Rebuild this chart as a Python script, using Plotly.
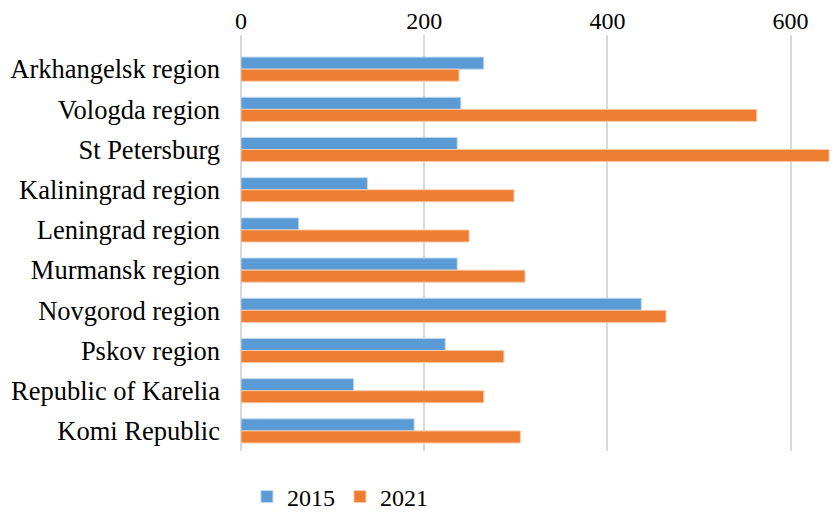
import plotly.graph_objects as go

regions = ["Arkhangelsk region", "Vologda region", "St Petersburg", "Kaliningrad region",
           "Leningrad region", "Murmansk region", "Novgorod region", "Pskov region",
           "Republic of Karelia", "Komi Republic"]
v2015 = [265, 240, 236, 138, 63, 236, 437, 223, 123, 189]
v2021 = [238, 563, 642, 298, 249, 310, 464, 287, 265, 305]
tick_vals = [0, 200, 400, 600]

FONT = "Liberation Serif"
fig = go.Figure()
fig.add_trace(go.Bar(y=regions, x=v2015, name="2015", orientation="h",
                     marker=dict(color="#5B9BD5", line=dict(color="#BDD7EE", width=1))))
fig.add_trace(go.Bar(y=regions, x=v2021, name="2021", orientation="h",
                     marker=dict(color="#ED7D31", line=dict(color="#F8CBAD", width=1))))

fig.update_layout(
    width=833, height=515,
    margin=dict(l=241, r=3, t=35, b=64),
    paper_bgcolor="white", plot_bgcolor="white",
    barmode="group", bargap=0.4, bargroupgap=0,
    font=dict(family=FONT, size=25, color="#000000"),
    xaxis=dict(side="top", range=[0, 643], tickvals=tick_vals, showgrid=True,
               gridcolor="#D9D9D9", gridwidth=1.5, zeroline=True, zerolinecolor="#D9D9D9",
               zerolinewidth=1.5, showline=False, tickfont=dict(size=24), ticks="",
               automargin=False),
    yaxis=dict(range=[9.5, -0.85], autorange=False, showgrid=False, showline=False,
               ticks="", ticklabelstandoff=20, tickfont=dict(size=26.5), automargin=False),
    legend=dict(orientation="h", x=0.168, xanchor="center", xref="paper",
                y=0.035, yanchor="middle", yref="container",
                font=dict(size=24), itemwidth=30, traceorder="normal"),
)
fig.write_html("out.html")
